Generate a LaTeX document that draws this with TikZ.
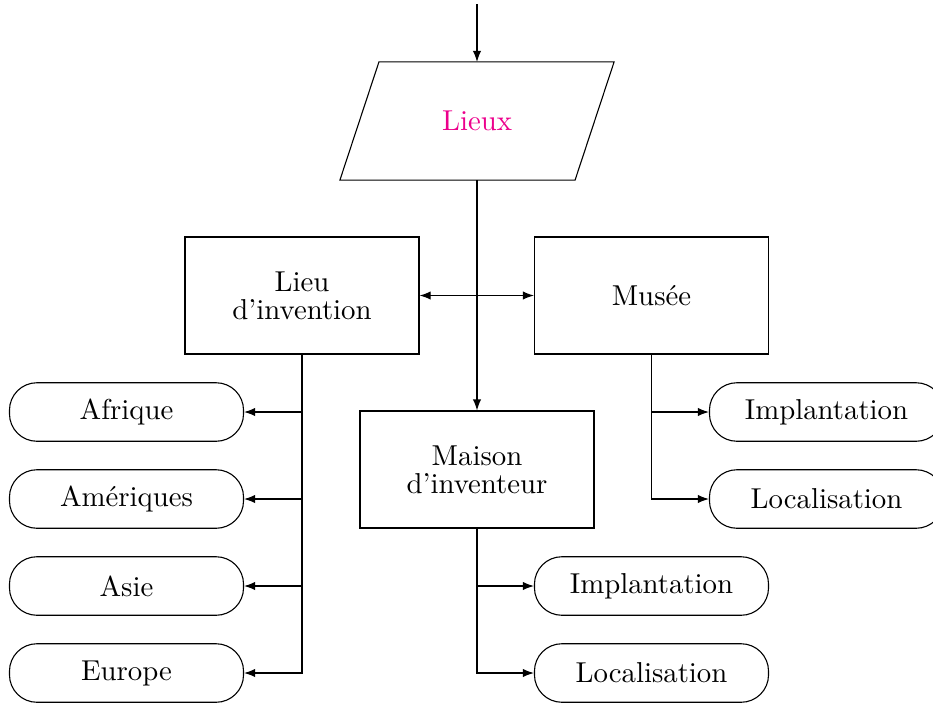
\documentclass[tikz,border=0pt]{standalone}
\usetikzlibrary{arrows.meta}
\definecolor{lieuxpink}{RGB}{236,0,140}
\begin{document}
\begin{tikzpicture}[x=0.0128205cm,y=-0.0128205cm,
  every node/.style={font=\fontsize{10.5}{10.2}\selectfont},
  box/.style={draw, minimum width=3cm, minimum height=1.5cm, align=center, inner sep=2pt},
  plain/.style={minimum width=3cm, minimum height=1.5cm, align=center, inner sep=2pt},
  pill/.style={draw, rounded corners=10pt, minimum width=3cm, minimum height=0.75cm, inner sep=2pt},
  arr/.style={-{Latex[length=4pt,width=3pt]}},
  darr/.style={{Latex[length=4pt,width=3pt]}-{Latex[length=4pt,width=3pt]}}]
\useasboundingbox (0,0) rectangle (933,704);
% nodes
\node[plain] (lieux) at (477,121) {\textcolor{lieuxpink}{Lieux}};
\draw ([xshift=0.25cm]lieux.north west) -- ([xshift=0.25cm]lieux.north east)
  -- ([xshift=-0.25cm]lieux.south east) -- ([xshift=-0.25cm]lieux.south west) -- cycle;
\node[box] (lieu) at (302,295.5) {Lieu\\d'invention};
\node[box] (musee) at (651.5,295.5) {Musée};
\node[box] (maison) at (477,469.5) {Maison\\d'inventeur};
\node[pill] (afr) at (126.5,412) {Afrique};
\node[pill] (ame) at (126.5,499) {Amériques};
\node[pill] (asie) at (126.5,586) {Asie};
\node[pill] (eur) at (126.5,673) {Europe};
\node[pill] (impl1) at (826.5,412) {Implantation};
\node[pill] (loc1) at (826.5,499) {Localisation};
\node[pill] (impl2) at (651.5,586) {Implantation};
\node[pill] (loc2) at (651.5,673) {Localisation};
% connectors
\coordinate (top) at (477,4);
\draw[arr] (top) -- (top |- lieux.north);
\draw[arr] (maison.north |- lieux.south) -- (maison.north);
\draw[darr] (lieu.east) -- (musee.west);
\draw[arr] (lieu.south) |- (eur.east);
\draw[arr] (lieu.south |- afr.east) -- (afr.east);
\draw[arr] (lieu.south |- ame.east) -- (ame.east);
\draw[arr] (lieu.south |- asie.east) -- (asie.east);
\draw[arr] (musee.south) |- (loc1.west);
\draw[arr] (musee.south |- impl1.west) -- (impl1.west);
\draw[arr] (maison.south) |- (loc2.west);
\draw[arr] (maison.south |- impl2.west) -- (impl2.west);
\end{tikzpicture}
\end{document}
